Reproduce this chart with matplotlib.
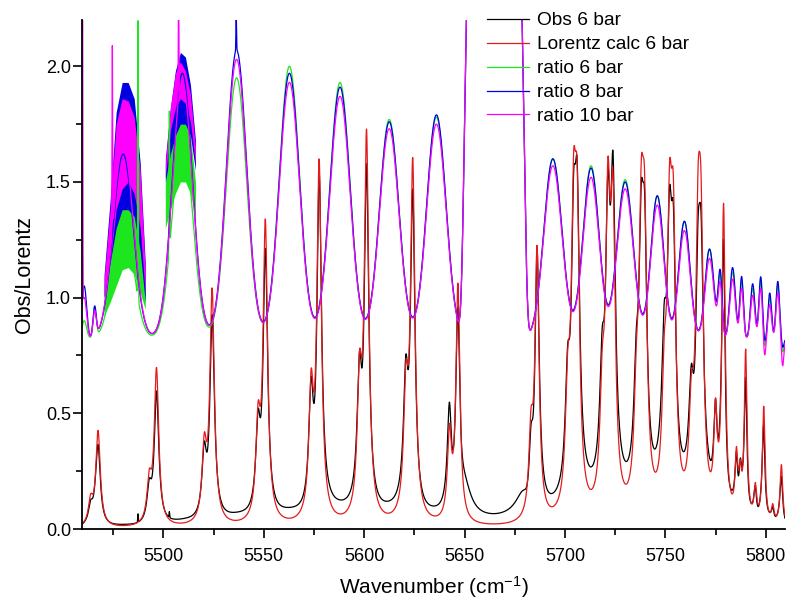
import numpy as np
import matplotlib
matplotlib.use("Agg")
import matplotlib.pyplot as plt
from matplotlib.ticker import MultipleLocator

plt.rcParams['font.family'] = ['Liberation Sans', 'DejaVu Sans']
plt.rcParams['mathtext.default'] = 'regular'

# Lorentz calc line list: centre (cm-1), peak height, half width
line_pos = [5463.8, 5467.5, 5493.0, 5496.6, 5520.4, 5524.3, 5547.2, 5550.8,
            5573.6, 5577.6, 5597.7, 5601.2, 5620.8, 5624.2, 5642.5, 5646.7,
            5683.1, 5686.1, 5701.4, 5704.3, 5706.1, 5718.6, 5721.4, 5723.9,
            5735.6, 5738.0, 5739.7, 5749.5, 5752.1, 5754.0, 5763.0, 5766.3,
            5767.8, 5775.0, 5779.0, 5785.4, 5787.3, 5790.0, 5794.8, 5799.0,
            5803.5, 5807.8]
line_height = [0.10, 0.41, 0.17, 0.67, 0.30, 1.00, 0.38, 1.28,
               0.52, 1.53, 0.54, 1.64, 0.50, 1.52, 0.36, 1.02,
               0.33, 1.15, 0.45, 1.09, 1.09, 0.42, 1.19, 1.19,
               0.38, 1.02, 1.02, 0.45, 1.05, 1.05, 0.38, 0.99,
               0.99, 0.40, 1.33, 0.25, 0.16, 0.72, 0.14, 0.50,
               0.07, 0.26]
line_hwhm = [1.35] * 14 + [1.2] * 2 + [1.25] * 2 + [1.4] * 15 + [1.0] * 2 + [0.8] * 7

# obs/calc ratio: bumps between the lines (centre, width, shape, value at centre)
bump_pos = [5460.6, 5465.8, 5480.0, 5509.5, 5536.5, 5562.8, 5588.0, 5612.5,
            5636.0, 5664.8, 5694.0, 5713.0, 5730.0, 5746.0, 5759.5, 5772.0,
            5777.3, 5783.5, 5788.0, 5793.5, 5797.5, 5799.4, 5802.0, 5806.0,
            5808.4]
bump_width = [1.2, 0.8, 5.0, 5.0, 5.0, 5.0, 5.0, 4.8,
              4.8, 14.0, 4.5, 4.0, 4.0, 3.2, 2.8, 2.2,
              1.0, 1.4, 0.9, 1.1, 0.9, 0.6, 0.9, 0.9,
              0.6]
bump_shape = [2] * 9 + [10] + [2] * 15
ratio6_peak = [0.90, 0.95, 1.35, 1.72, 1.95, 2.00, 1.93, 1.77,
               1.78, 3.00, 1.60, 1.57, 1.51, 1.44, 1.33, 1.21,
               1.08, 1.11, 1.07, 1.04, 1.07, 0.77, 1.00, 1.05,
               0.76]
ratio8_peak = [1.05, 0.95, 1.62, 1.97, 2.07, 1.97, 1.91, 1.76,
               1.79, 3.00, 1.60, 1.56, 1.50, 1.44, 1.33, 1.21,
               1.10, 1.13, 1.09, 1.06, 1.09, 0.79, 1.02, 1.07,
               0.78]
ratio10_peak = [1.00, 0.93, 1.66, 1.93, 2.03, 1.93, 1.87, 1.73,
                1.75, 3.00, 1.57, 1.52, 1.47, 1.40, 1.29, 1.17,
                1.05, 1.08, 1.04, 1.01, 1.04, 0.73, 0.97, 1.02,
                0.70]
ratio_floor = 0.82

# narrow spikes in the ratio traces (added height)
spike_pos = [5459.7, 5474.6, 5487.4, 5503.0, 5507.6, 5536.3]
spike6 = [0.0, 0.0, 1.2, 0.6, 0.0, 0.0]
spike8 = [0.0, 0.0, 0.0, 0.0, 0.0, 0.15]
spike10 = [2.0, 0.8, 0.0, 0.0, 0.5, 0.0]

# spread of the noisy ratio traces where the signal is weak (low, high)
band_a_pos = [5470.5, 5473.5, 5476.5, 5479.5, 5482.5, 5485.5, 5488.5, 5491]
green_a_lo = [0.92, 0.98, 1.05, 1.12, 1.13, 1.10, 1.02, 0.95]
green_a_hi = [1.05, 1.30, 1.45, 1.53, 1.50, 1.42, 1.25, 1.05]
blue_a_lo = [1.00, 1.15, 1.30, 1.38, 1.38, 1.35, 1.20, 0.98]
blue_a_hi = [1.10, 1.42, 1.80, 1.93, 1.93, 1.86, 1.58, 1.15]
mag_a_lo = [1.00, 1.15, 1.38, 1.47, 1.50, 1.45, 1.30, 1.02]
mag_a_hi = [1.08, 1.38, 1.75, 1.86, 1.85, 1.78, 1.55, 1.12]

band_b_pos = [5501, 5503.5, 5506, 5508.5, 5511, 5513.5, 5516]
green_b_lo = [1.30, 1.38, 1.45, 1.50, 1.50, 1.45, 1.35]
green_b_hi = [1.50, 1.72, 1.80, 1.82, 1.78, 1.70, 1.50]
blue_b_lo = [1.50, 1.62, 1.70, 1.75, 1.75, 1.70, 1.55]
blue_b_hi = [1.60, 1.82, 1.98, 2.06, 2.04, 1.92, 1.68]
mag_b_lo = [1.52, 1.72, 1.82, 1.86, 1.84, 1.76, 1.58]
mag_b_hi = [1.58, 1.82, 1.97, 2.02, 1.98, 1.88, 1.65]

wn = np.linspace(5459, 5810, 9000)

calc = np.zeros_like(wn)
for c, h, g in zip(line_pos, line_height, line_hwhm):
    calc += h * g ** 2 / ((wn - c) ** 2 + g ** 2)


def ratio_curve(peaks, spikes):
    r = np.full_like(wn, ratio_floor)
    for c, s, p, pk in zip(bump_pos, bump_width, bump_shape, peaks):
        r += (pk - ratio_floor) * np.exp(-0.5 * np.abs((wn - c) / s) ** p)
    for c, a in zip(spike_pos, spikes):
        r += a * np.exp(-0.5 * ((wn - c) / 0.15) ** 2)
    return r


ratio6 = ratio_curve(ratio6_peak, spike6)
ratio8 = ratio_curve(ratio8_peak, spike8)
ratio10 = ratio_curve(ratio10_peak, spike10)
obs = calc * ratio6

fig = plt.figure(figsize=(7.87, 6.04), dpi=100)
ax = fig.add_axes([82 / 787, 75 / 604, 703 / 787, 509 / 604])

lw = 0.9
green, blue, magenta = '#1ee61e', '#0000e0', '#ff00ff'
ax.plot(wn, obs, color='black', lw=lw, label='Obs 6 bar')
ax.plot(wn, calc, color='#e41a1c', lw=lw, label='Lorentz calc 6 bar')
ax.plot(wn, ratio6, color=green, lw=lw, label='ratio 6 bar')
ax.fill_between(band_a_pos, green_a_lo, green_a_hi, color=green, lw=0)
ax.fill_between(band_b_pos, green_b_lo, green_b_hi, color=green, lw=0)
ax.plot(wn, ratio8, color=blue, lw=lw, label='ratio 8 bar')
ax.fill_between(band_a_pos, blue_a_lo, blue_a_hi, color=blue, lw=0)
ax.fill_between(band_b_pos, blue_b_lo, blue_b_hi, color=blue, lw=0)
ax.plot(wn, ratio10, color=magenta, lw=lw, label='ratio 10 bar')
ax.fill_between(band_a_pos, mag_a_lo, mag_a_hi, color=magenta, lw=0)
ax.fill_between(band_b_pos, mag_b_lo, mag_b_hi, color=magenta, lw=0)

ax.set_xlim(5459.5, 5809.6)
ax.set_ylim(0, 2.2)
ax.xaxis.set_major_locator(MultipleLocator(50))
ax.xaxis.set_minor_locator(MultipleLocator(25))
ax.yaxis.set_major_locator(MultipleLocator(0.5))
ax.yaxis.set_minor_locator(MultipleLocator(0.25))
ax.yaxis.set_major_formatter(plt.FormatStrFormatter('%.1f'))
ax.spines['top'].set_visible(False)
ax.spines['right'].set_visible(False)
for s in ['left', 'bottom']:
    ax.spines[s].set_linewidth(1.3)
ax.tick_params(which='both', direction='out', width=1.2, labelsize=13)
ax.tick_params(which='major', length=6.5)
ax.tick_params(which='minor', length=4)
ax.tick_params(axis='x', which='major', pad=7)
ax.tick_params(axis='y', which='major', pad=1.5)

ax.set_xlabel('Wavenumber (cm$^{-1}$)', fontsize=15, labelpad=7)
ax.set_ylabel('Obs/Lorentz', fontsize=15.5, labelpad=8)

leg = ax.legend(loc='upper left', bbox_to_anchor=(487 / 787, 1 - 12 / 604),
                bbox_transform=fig.transFigure, frameon=False, fontsize=13.8,
                handlelength=2.2, handletextpad=0.4, labelspacing=0.34,
                borderpad=0, borderaxespad=0)

fig.savefig('out.png', dpi=100)
